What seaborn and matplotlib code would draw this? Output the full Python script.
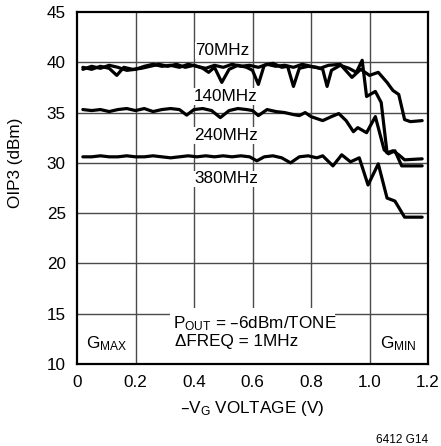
import numpy as np
import pandas as pd
import matplotlib
matplotlib.use("Agg")
import matplotlib.pyplot as plt
import seaborn as sns
from matplotlib.patches import Rectangle

# ---- data ----
x_70 = [0.02, 0.05, 0.08, 0.11, 0.14, 0.17, 0.20, 0.23, 0.26, 0.29, 0.32, 0.35, 0.38, 0.41,
        0.44, 0.47, 0.50, 0.53, 0.56, 0.59, 0.62, 0.65, 0.68, 0.71, 0.74, 0.77, 0.80, 0.83,
        0.86, 0.90, 0.94, 0.97, 1.00, 1.03, 1.06, 1.08, 1.10, 1.12, 1.14, 1.18]
y_70 = [39.3, 39.6, 39.4, 39.7, 39.5, 39.2, 39.3, 39.6, 39.8, 39.6, 39.7, 39.5, 39.8, 39.6,
        39.4, 39.7, 39.5, 39.8, 39.6, 39.7, 39.5, 39.8, 39.6, 39.7, 39.5, 39.8, 39.6, 39.4,
        39.7, 39.8, 38.5, 39.3, 38.7, 39.0, 38.0, 37.2, 36.8, 34.3, 34.1, 34.2]

x_140 = [0.02, 0.05, 0.08, 0.11, 0.136, 0.16, 0.19, 0.22, 0.25, 0.28, 0.31, 0.34, 0.37, 0.40,
         0.43, 0.45, 0.47, 0.495, 0.52, 0.55, 0.58, 0.60, 0.62, 0.64, 0.67, 0.70, 0.72, 0.74,
         0.76, 0.79, 0.82, 0.84, 0.855, 0.87, 0.90, 0.93, 0.955, 0.975, 0.99, 1.02, 1.04,
         1.06, 1.08, 1.10, 1.12, 1.18]
y_140 = [39.5, 39.3, 39.6, 39.4, 38.7, 39.5, 39.3, 39.4, 39.6, 39.8, 39.6, 39.8, 39.5, 39.7,
         39.4, 39.0, 39.5, 38.0, 39.3, 39.7, 39.5, 39.2, 37.8, 39.7, 39.9, 39.5, 39.6, 37.6,
         39.4, 39.6, 39.5, 39.3, 37.6, 39.2, 39.7, 39.4, 39.0, 40.2, 36.6, 37.1, 36.0,
         31.0, 31.2, 30.8, 30.3, 30.4]

x_240 = [0.02, 0.05, 0.08, 0.11, 0.14, 0.17, 0.20, 0.23, 0.26, 0.29, 0.32, 0.35, 0.375, 0.40,
         0.43, 0.46, 0.49, 0.52, 0.55, 0.58, 0.60, 0.62, 0.65, 0.68, 0.71, 0.74, 0.76, 0.78,
         0.80, 0.84, 0.87, 0.895, 0.92, 0.945, 0.96, 0.99, 1.02, 1.05, 1.065, 1.087, 1.11, 1.18]
y_240 = [35.3, 35.2, 35.3, 35.1, 35.3, 35.4, 35.2, 35.4, 35.1, 35.3, 35.4, 35.3, 34.75, 35.3,
         35.4, 35.2, 34.5, 35.2, 35.4, 35.3, 35.2, 34.7, 35.3, 35.1, 35.0, 34.8, 34.7, 35.0,
         34.6, 34.2, 34.6, 34.9, 34.2, 33.1, 33.5, 33.0, 34.6, 31.3, 30.9, 31.2, 29.7, 29.7]

x_380 = [0.02, 0.05, 0.08, 0.11, 0.14, 0.17, 0.20, 0.23, 0.26, 0.29, 0.32, 0.35, 0.38, 0.41,
         0.44, 0.47, 0.50, 0.53, 0.56, 0.59, 0.615, 0.64, 0.67, 0.70, 0.73, 0.76, 0.79, 0.82,
         0.84, 0.875, 0.905, 0.935, 0.965, 0.995, 1.03, 1.06, 1.087, 1.12, 1.18]
y_380 = [30.6, 30.6, 30.7, 30.6, 30.6, 30.7, 30.6, 30.6, 30.7, 30.6, 30.5, 30.6, 30.7, 30.6,
         30.7, 30.6, 30.7, 30.6, 30.7, 30.6, 30.2, 30.6, 30.7, 30.5, 30.0, 30.6, 30.7, 30.5,
         30.7, 29.7, 30.8, 30.1, 30.5, 27.8, 29.9, 26.5, 26.2, 24.6, 24.6]

series_names = ["70MHz", "140MHz", "240MHz", "380MHz"]
xticks = [0, 0.2, 0.4, 0.6, 0.8, 1.0, 1.2]
xticklabels = ["0", "0.2", "0.4", "0.6", "0.8", "1.0", "1.2"]
yticks = [10, 15, 20, 25, 30, 35, 40, 45]

frames = []
for name, xs, ys in zip(series_names, [x_70, x_140, x_240, x_380], [y_70, y_140, y_240, y_380]):
    frames.append(pd.DataFrame({"V": xs, "OIP3": ys, "freq": name}))
df = pd.concat(frames, ignore_index=True)

# ---- style ----
sns.set_style("white")
FONT = ["Liberation Sans Narrow", "Liberation Sans", "DejaVu Sans"]
plt.rcParams["font.family"] = FONT
plt.rcParams["mathtext.default"] = "regular"
plt.rcParams["text.color"] = "black"
plt.rcParams["axes.labelcolor"] = "black"
plt.rcParams["xtick.color"] = "black"
plt.rcParams["ytick.color"] = "black"
FS = 12.3

fig = plt.figure(figsize=(4.41, 4.46), dpi=100)
ax = fig.add_axes([77 / 441, 1 - 364 / 446, (428 - 77) / 441, (364 - 12) / 446])

# grid
for gx in xticks[1:-1]:
    ax.axvline(gx, color="#4a4a4a", lw=1.0, zorder=1)
for gy in yticks[1:-1]:
    ax.axhline(gy, color="#4a4a4a", lw=1.0, zorder=1)

# curves
for name in series_names:
    sub = df[df["freq"] == name]
    sns.lineplot(data=sub, x="V", y="OIP3", ax=ax, color="black", lw=2.3,
                 estimator=None, sort=False, legend=False, zorder=3,
                 solid_joinstyle="round", solid_capstyle="round")

ax.set_xlim(0, 1.2)
ax.set_ylim(10, 45)
ax.set_xticks(xticks)
ax.set_xticklabels(xticklabels)
ax.set_yticks(yticks)
ax.tick_params(direction="in", length=4, width=1, color="black", labelsize=FS, pad=8,
               labelcolor="black")
for s in ax.spines.values():
    s.set_visible(True)
    s.set_color("black")
    s.set_linewidth(1.6)
ax.set_xlabel("")
ax.set_ylabel("")

# white box behind test-condition note
ax.add_patch(Rectangle((0.318, 10.0), 0.882 - 0.318, 15.6 - 10.0, facecolor="white",
                       edgecolor="none", zorder=1.5))

bb = dict(facecolor="white", edgecolor="none", pad=0.6)
ax.text(0.405, 41.2, "70MHz", fontsize=FS, ha="left", va="center", bbox=bb, zorder=2)
ax.text(0.40, 36.6, "140MHz", fontsize=FS, ha="left", va="center", bbox=bb, zorder=2)
ax.text(0.40, 32.7, "240MHz", fontsize=FS, ha="left", va="center", bbox=bb, zorder=2)
ax.text(0.40, 28.4, "380MHz", fontsize=FS, ha="left", va="center", bbox=bb, zorder=2)

ax.text(0.10, 12.0, "$\\mathregular{G_{MAX}}$", fontsize=FS, ha="center", va="center", zorder=4)
ax.text(1.10, 12.0, "$\\mathregular{G_{MIN}}$", fontsize=FS, ha="center", va="center", zorder=4)
ax.text(0.328, 14.0, "$\\mathregular{P_{OUT}}$ = –6dBm/TONE", fontsize=FS, ha="left",
        va="center", zorder=4)
ax.text(0.335, 12.2, "ΔFREQ = 1MHz", fontsize=FS, ha="left", va="center", zorder=4)

fig.text(252 / 441, 1 - 408 / 446, "–$\\mathregular{V_G}$ VOLTAGE (V)", fontsize=FS,
         ha="center", va="center")
fig.text(15.5 / 441, 1 - 163 / 446, "OIP3 (dBm)", fontsize=FS, rotation=90,
         ha="center", va="center")
fig.text(428 / 441, 1 - 440 / 446, "6412 G14", fontsize=8.5, ha="right", va="center")

fig.savefig("out.png", dpi=100)
